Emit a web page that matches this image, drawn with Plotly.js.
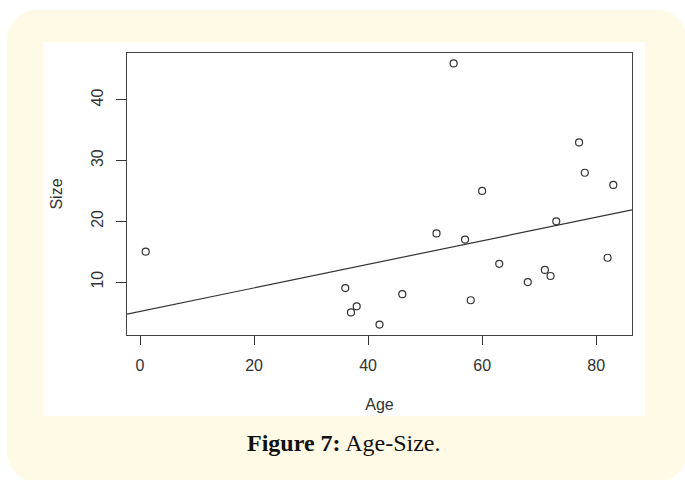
<!DOCTYPE html>
<html>
<head>
<meta charset="utf-8">
<script src="https://cdn.plot.ly/plotly-3.0.1.min.js"></script>
<style>
  html, body { margin: 0; padding: 0; background: #ffffff; width: 685px; height: 480px; overflow: hidden; }
  #card { position: absolute; left: 7px; top: 10px; width: 680px; height: 472px; border-radius: 30px; background: #FFFAE6; }
  #panel { position: absolute; left: 43px; top: 42px; width: 602px; height: 374px; background: #ffffff; }
  #chart { position: absolute; left: 0; top: 0; width: 685px; height: 480px; }
</style>
</head>
<body>
<div id="card"></div>
<div id="panel"></div>
<div id="chart"></div>
<script>
// Data
var age  = [1, 36, 37, 38, 42, 46, 52, 55, 57, 58, 60, 63, 68, 71, 72, 73, 77, 78, 82, 83];
var size = [15, 9, 5, 6, 3, 8, 18, 46, 17, 7, 25, 13, 10, 12, 11, 20, 33, 28, 14, 26];
var xTicks = [0, 20, 40, 60, 80];
var yTicks = [10, 20, 30, 40];
var xLabel = 'Age';
var yLabel = 'Size';
var caption = '<b>Figure 7:</b> Age-Size.';

// R-style axis ranges (data range extended by 4%)
function rRange(v) {
  var mn = Math.min.apply(null, v), mx = Math.max.apply(null, v);
  var pad = (mx - mn) * 0.04;
  return [mn - pad, mx + pad];
}
var xr = rRange(age), yr = rRange(size);

// Least-squares fit line (abline(lm(size ~ age)))
var n = age.length, mxv = 0, myv = 0;
for (var i = 0; i < n; i++) { mxv += age[i]; myv += size[i]; }
mxv /= n; myv /= n;
var sxy = 0, sxx = 0;
for (var j = 0; j < n; j++) { sxy += (age[j] - mxv) * (size[j] - myv); sxx += (age[j] - mxv) * (age[j] - mxv); }
var slope = sxy / sxx, intercept = myv - slope * mxv;
var fitX = [xr[0], xr[1]];
var fitY = fitX.map(function (x) { return intercept + slope * x; });

var ink = '#333333';
var traces = [
  { x: fitX, y: fitY, mode: 'lines', line: { color: ink, width: 1.2 }, hoverinfo: 'skip', showlegend: false },
  { x: age, y: size, mode: 'markers', marker: { symbol: 'circle-open', size: 7, color: ink, line: { width: 1.2, color: ink } }, showlegend: false }
];

var layout = {
  width: 685, height: 480,
  margin: { l: 127, r: 53, t: 53, b: 145 },
  paper_bgcolor: 'rgba(0,0,0,0)',
  plot_bgcolor: '#ffffff',
  font: { family: 'Liberation Sans, Arial, sans-serif', size: 16, color: ink },
  xaxis: {
    range: xr, tickvals: xTicks, ticks: 'outside', ticklen: 9, tickwidth: 1, tickcolor: ink,
    showgrid: false, zeroline: false, showline: true, mirror: true, linecolor: '#444444', linewidth: 1.2,
    tickfont: { size: 16, color: ink }, ticklabelstandoff: 7,
    title: { text: xLabel, font: { size: 16, color: ink }, standoff: 25 }
  },
  yaxis: {
    range: yr, tickvals: yTicks, ticks: 'outside', ticklen: 10, tickwidth: 1, tickcolor: ink, tickangle: -90,
    showgrid: false, zeroline: false, showline: true, mirror: true, linecolor: '#444444', linewidth: 1.2,
    tickfont: { size: 16, color: ink }, ticklabelstandoff: 6,
    title: { text: yLabel, font: { size: 16, color: ink }, standoff: 22 }
  },
  annotations: [
    { text: caption, xref: 'paper', yref: 'paper', x: (344 - 127) / 505, y: (335 - 443) / 282,
      xanchor: 'center', yanchor: 'middle', showarrow: false,
      font: { family: 'Liberation Serif, DejaVu Serif, serif', size: 24, color: '#111111' } }
  ]
};

Plotly.newPlot('chart', traces, layout, { displayModeBar: false, staticPlot: true });
</script>
</body>
</html>
